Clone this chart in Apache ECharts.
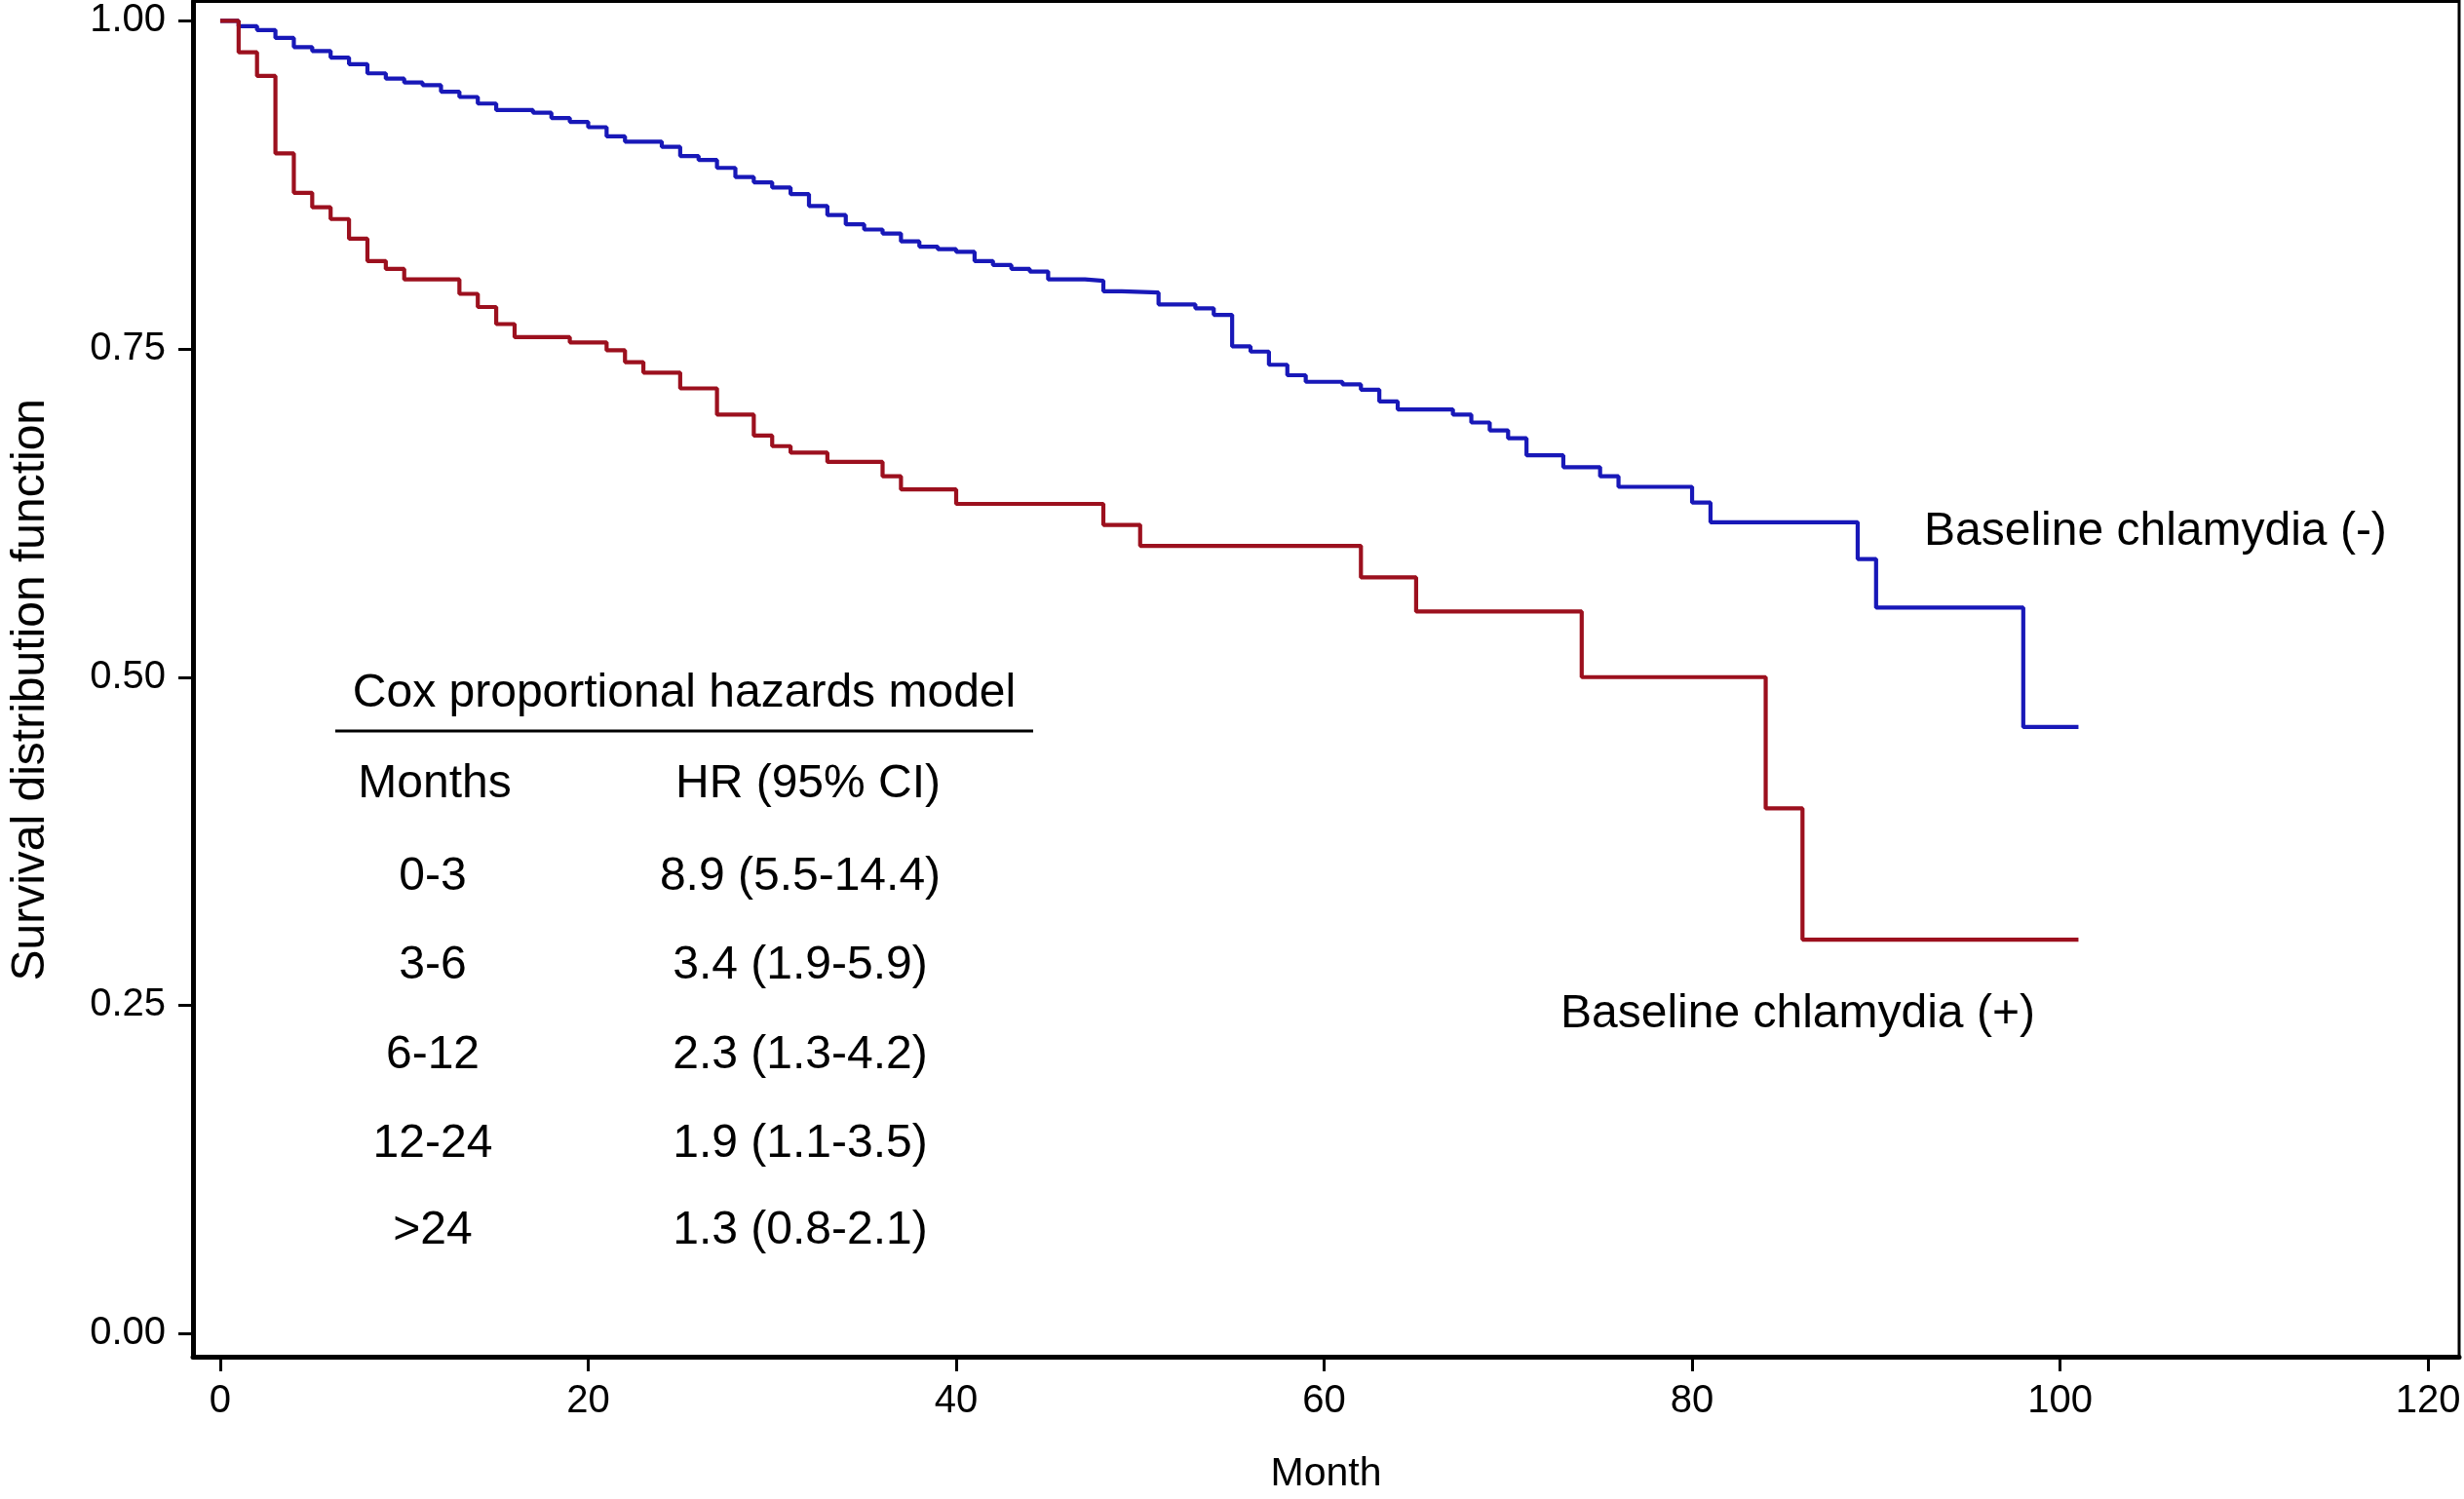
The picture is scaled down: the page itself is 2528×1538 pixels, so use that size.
<!DOCTYPE html>
<html>
<head>
<meta charset="utf-8">
<script src="https://cdn.jsdelivr.net/npm/echarts@6/dist/echarts.min.js"></script>
<style>
html,body{margin:0;padding:0;background:#fff;}
#chart{width:2528px;height:1538px;}
</style>
</head>
<body>
<div id="chart"></div>
<script>
// Baseline chlamydia (-) : Kaplan-Meier step points (month, survival after step)
const negMonths = [0, 1, 2, 3, 4, 5, 6, 7, 8, 9, 10, 11, 12, 13, 14, 15, 17, 18, 19, 20, 21, 22, 24, 25, 26, 27, 28, 29, 30, 31, 32, 33, 34, 35, 36, 37, 38, 39, 40, 41, 42, 43, 44, 45, 47, 48, 49, 51, 53, 54, 55, 56, 57, 58, 59, 61, 62, 63, 64, 67, 68, 69, 70, 71, 73, 75, 76, 80, 81, 89, 90, 98, 101];
const negSurv = [1.000, 0.996, 0.993, 0.987, 0.980, 0.977, 0.972, 0.967, 0.960, 0.956, 0.953, 0.951, 0.946, 0.942, 0.937, 0.932, 0.930, 0.926, 0.923, 0.919, 0.912, 0.908, 0.904, 0.897, 0.894, 0.888, 0.881, 0.877, 0.873, 0.868, 0.859, 0.852, 0.845, 0.841, 0.838, 0.832, 0.828, 0.826, 0.824, 0.817, 0.814, 0.811, 0.809, 0.803, 0.802, 0.794, 0.793, 0.784, 0.781, 0.776, 0.752, 0.748, 0.738, 0.730, 0.725, 0.723, 0.719, 0.710, 0.704, 0.700, 0.694, 0.688, 0.682, 0.669, 0.660, 0.653, 0.645, 0.633, 0.618, 0.590, 0.553, 0.462, 0.462];

// Baseline chlamydia (+)
const posMonths = [0, 1, 2, 3, 4, 5, 6, 7, 8, 9, 10, 13, 14, 15, 16, 19, 21, 22, 23, 25, 27, 29, 30, 31, 33, 36, 37, 40, 48, 50, 62, 65, 74, 84, 86, 101];
const posSurv = [1.000, 0.976, 0.958, 0.899, 0.869, 0.858, 0.849, 0.834, 0.817, 0.811, 0.803, 0.792, 0.782, 0.769, 0.759, 0.755, 0.749, 0.740, 0.732, 0.720, 0.700, 0.684, 0.676, 0.671, 0.664, 0.653, 0.643, 0.632, 0.616, 0.600, 0.576, 0.550, 0.500, 0.400, 0.300, 0.300];

const seriesNames = ['Baseline chlamydia (-)', 'Baseline chlamydia (+)'];

// Axis ticks
const xTicks = [0, 20, 40, 60, 80, 100, 120];
const yTicks = [0, 0.25, 0.5, 0.75, 1];

// Cox model table
const tableTitle = 'Cox proportional hazards model';
const tableHeaders = ['Months', 'HR (95% CI)'];
const hrPeriods = ['0-3', '3-6', '6-12', '12-24', '>24'];
const hrValues = ['8.9 (5.5-14.4)', '3.4 (1.9-5.9)', '2.3 (1.3-4.2)', '1.9 (1.1-3.5)', '1.3 (0.8-2.1)'];

const xTitle = 'Month';
const yTitle = 'Survival distribution function';

const FONT = '"Liberation Sans", Arial, Helvetica, sans-serif';
const BLUE = '#1818b8';
const RED = '#9c101e';

function zip(a, b) { return a.map((v, i) => [v, b[i]]); }

function txt(text, x, y, size, align) {
  return {
    type: 'text', x: x, y: y, silent: true, z: 10,
    style: {
      text: text, fill: '#000', fontSize: size, fontFamily: FONT,
      align: align, textAlign: align, verticalAlign: 'middle', textVerticalAlign: 'middle'
    }
  };
}

const graphics = [
  txt(seriesNames[0], 1974, 546, 48, 'left'),
  txt(seriesNames[1], 1601, 1041, 48, 'left'),
  txt(tableTitle, 702, 712, 48, 'center'),
  { type: 'line', silent: true, z: 6, shape: { x1: 344, y1: 750, x2: 1060, y2: 750 },
    style: { stroke: '#000', lineWidth: 3 } },
  txt(tableHeaders[0], 446, 805, 48, 'center'),
  txt(tableHeaders[1], 829, 805, 48, 'center')
];
const rowY = [900, 991, 1083, 1174, 1263];
hrPeriods.forEach((p, i) => {
  graphics.push(txt(p, 444, rowY[i], 48, 'center'));
  graphics.push(txt(hrValues[i], 821, rowY[i], 48, 'center'));
});

const chart = echarts.init(document.getElementById('chart'), null, { renderer: 'canvas' });
chart.setOption({
  animation: false,
  backgroundColor: '#fff',
  grid: { left: 194, right: 5, top: 1.5, bottom: 138, containLabel: false,
    show: true, borderColor: '#000', borderWidth: 3, backgroundColor: 'transparent' },
  xAxis: {
    type: 'value', min: -1.481, max: 121.69,
    axisLine: { show: true, onZero: false, lineStyle: { color: '#000', width: 5 } },
    axisTick: { show: true, length: 15, customValues: xTicks, lineStyle: { color: '#000', width: 3 } },
    splitLine: { show: false },
    axisLabel: { color: '#000', fontSize: 40, fontFamily: FONT, margin: 26, customValues: xTicks,
      showMinLabel: true, showMaxLabel: true },
    name: xTitle, nameLocation: 'middle', nameGap: 100,
    nameTextStyle: { color: '#000', fontSize: 41, fontFamily: FONT }
  },
  yAxis: {
    type: 'value', min: -0.01772, max: 1.01477,
    axisLine: { show: true, onZero: false, lineStyle: { color: '#000', width: 5 } },
    axisTick: { show: true, length: 15, customValues: yTicks, lineStyle: { color: '#000', width: 3 } },
    splitLine: { show: false },
    axisLabel: { color: '#000', fontSize: 40, fontFamily: FONT, margin: 28, customValues: yTicks,
      formatter: v => v.toFixed(2) },
    name: yTitle, nameLocation: 'middle', nameGap: 142,
    nameTextStyle: { color: '#000', fontSize: 48, fontFamily: FONT, padding: [0, 22, 0, 0] }
  },
  series: [
    { name: seriesNames[0], type: 'line', step: 'end', showSymbol: false, symbol: 'none',
      data: zip(negMonths, negSurv), lineStyle: { color: BLUE, width: 4.2 }, z: 3 },
    { name: seriesNames[1], type: 'line', step: 'end', showSymbol: false, symbol: 'none',
      data: zip(posMonths, posSurv), lineStyle: { color: RED, width: 4.2 }, z: 4 }
  ],
  graphic: graphics
});
</script>
</body>
</html>
